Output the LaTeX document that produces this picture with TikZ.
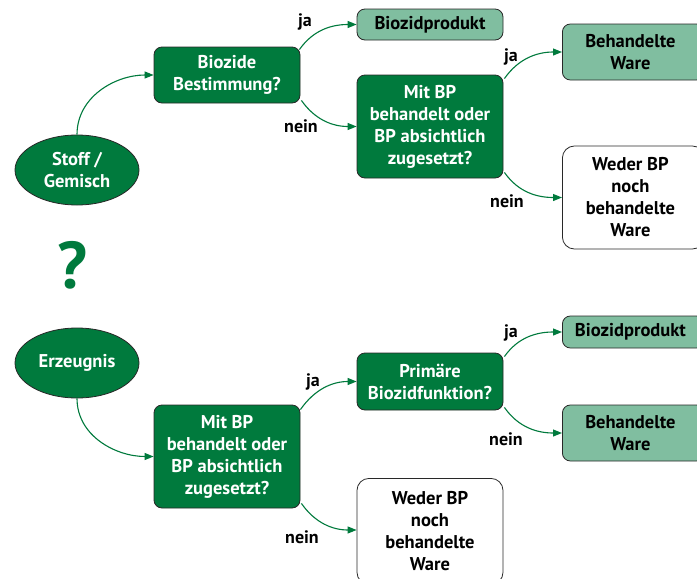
\documentclass[tikz,border=0pt]{standalone}
\usepackage{fontspec}
\setmainfont{PT Sans}
\usetikzlibrary{shapes.geometric,arrows.meta}
\definecolor{dgreen}{RGB}{0,122,61}
\definecolor{lgreen}{RGB}{128,190,160}
\definecolor{bordergray}{RGB}{40,40,40}
\tikzset{
  base/.style={draw=bordergray, line width=0.8pt, align=center, inner sep=0pt,
    font=\fontsize{18.5}{22}\selectfont\bfseries},
  qbox/.style={base, rectangle, rounded corners=8pt, fill=dgreen, text=white},
  ebox/.style={base, ellipse, fill=dgreen, text=white, minimum width=124pt, minimum height=70pt},
  rbox/.style={base, rectangle, rounded corners=8pt, fill=lgreen, text=black},
  wbox/.style={base, rectangle, rounded corners=12pt, fill=white, text=black},
  conn/.style={draw=dgreen, line width=1.1pt, -{Triangle[length=9pt,width=7pt]}},
  lab/.style={font=\fontsize{18}{20}\selectfont\bfseries, text=black, inner sep=0pt}
}
\begin{document}
\begin{tikzpicture}[x=1pt,y=-1pt]
\clip (0,0) rectangle (697,579);
\fill[white] (0,0) rectangle (697,579);
% top
\node[ebox] (stoff) at (77,170) {Stoff /\\Gemisch};
\node[qbox, minimum width=146pt, minimum height=56pt] (biozide) at (227,75) {Biozide\\Bestimmung?};
\node[rbox, minimum width=146pt, minimum height=31pt] (bp1) at (430,24.5) {Biozidprodukt};
\node[qbox, minimum width=146pt, minimum height=103pt] (mit1) at (430,126.5) {Mit BP\\behandelt oder\\BP absichtlich\\zugesetzt?};
\node[rbox, minimum width=142pt, minimum height=56pt, anchor=west] (bw1) at (562,52) {\hspace*{-6pt}Behandelte\\\hspace*{-6pt}Ware};
\node[wbox, minimum width=142pt, minimum height=103pt, anchor=west] (weder1) at (562,197.5) {\hspace*{-6pt}Weder BP\\\hspace*{-6pt}noch\\\hspace*{-6pt}behandelte\\\hspace*{-6pt}Ware};
\node[text=dgreen, font=\fontsize{66}{66}\selectfont\bfseries, inner sep=0pt] (q) at (72,265) {?};
% bottom
\node[ebox] (erz) at (77,363) {Erzeugnis};
\node[qbox, minimum width=146pt, minimum height=103pt] (mit2) at (227,456.5) {Mit BP\\behandelt oder\\BP absichtlich\\zugesetzt?};
\node[qbox, minimum width=146pt, minimum height=57pt] (prim) at (430,381.5) {Primäre\\Biozidfunktion?};
\node[rbox, minimum width=142pt, minimum height=32pt, anchor=west] (bp2) at (562,332) {\hspace*{-6pt}Biozidprodukt};
\node[rbox, minimum width=142pt, minimum height=56pt, anchor=west] (bw2) at (562,433) {\hspace*{-6pt}Behandelte\\\hspace*{-6pt}Ware};
\node[wbox, minimum width=146pt, minimum height=106pt, anchor=north] (weder2) at (430,478) {Weder BP\\noch\\behandelte\\Ware};
% connectors top
\draw[conn] (stoff.north) to[out=90,in=180] (biozide.west);
\draw[conn] ([shift={(-1,3)}]biozide.north east) to[out=55,in=180] (bp1.west);
\draw[conn] ([shift={(1,-3)}]biozide.south east) to[out=-55,in=180] (mit1.west);
\draw[conn] ([shift={(1,4)}]mit1.north east) to[out=55,in=180] (bw1.west);
\draw[conn] ([shift={(1,-6)}]mit1.south east) to[out=-55,in=180] (weder1.west);
\node[lab] (ja1) at (305,22) {ja};
\node[lab] (nein1) at (301,126) {nein};
\node[lab] (ja2) at (511,57) {ja};
\node[lab] (nein2) at (507,201) {nein};
% connectors bottom
\draw[conn] (erz.south) to[out=-90,in=180] (mit2.west);
\draw[conn] ([shift={(0,5)}]mit2.north east) to[out=55,in=180] (prim.west);
\draw[conn] ([shift={(1,-5)}]mit2.south east) to[out=-55,in=180] (weder2.west |- 0,530);
\draw[conn] ([shift={(1,4)}]prim.north east) to[out=55,in=180] (bp2.west);
\draw[conn] ([shift={(1,-3)}]prim.south east) to[out=-55,in=180] (bw2.west);
\node[lab] (ja3) at (313,382) {ja};
\node[lab] (nein3) at (302,537) {nein};
\node[lab] (ja4) at (511,333) {ja};
\node[lab] (nein4) at (506,439) {nein};
\end{tikzpicture}
\end{document}
